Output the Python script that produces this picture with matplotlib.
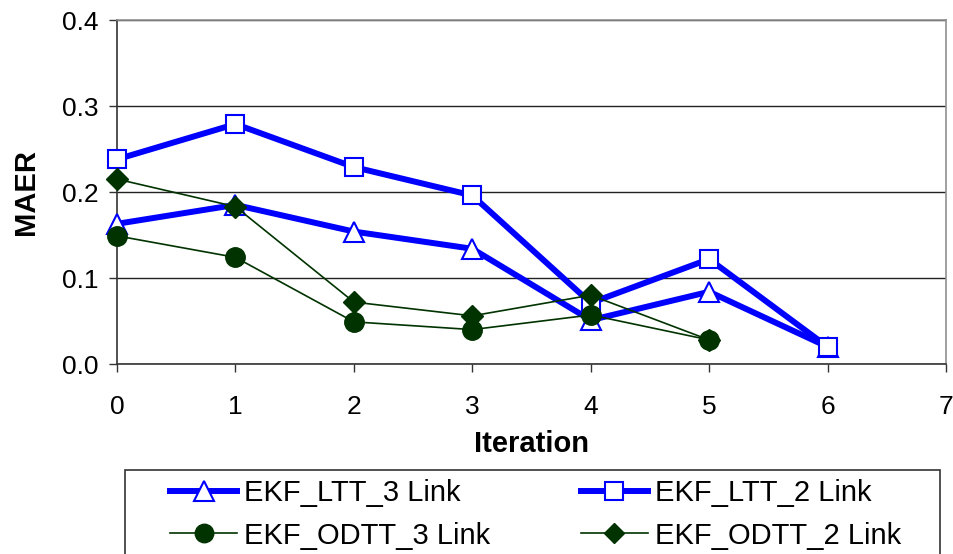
import matplotlib
matplotlib.use("Agg")
import matplotlib.pyplot as plt
from matplotlib.patches import Rectangle

plt.rcParams['font.family'] = ['Liberation Sans', 'DejaVu Sans']

iterations = [0, 1, 2, 3, 4, 5, 6]
ltt_3link = [0.163, 0.185, 0.154, 0.134, 0.051, 0.084, 0.020]
ltt_2link = [0.238, 0.279, 0.229, 0.196, 0.071, 0.122, 0.020]
odtt_3link = [0.149, 0.124, 0.049, 0.040, 0.057, 0.028]
odtt_2link = [0.215, 0.183, 0.072, 0.056, 0.080, 0.028]

W, H = 954, 554
fig = plt.figure(figsize=(W / 100, H / 100), dpi=100)
ax = fig.add_axes([117 / W, 1 - 364 / H, (946 - 117) / W, (364 - 20) / H])

blue = '#0000FF'
green = '#003300'

l1, = ax.plot(iterations, ltt_3link, color=blue, lw=4.3, marker='^', ms=15,
              mfc='white', mec=blue, mew=1.5, label='EKF_LTT_3 Link',
              zorder=3, clip_on=False)
l2, = ax.plot(iterations, ltt_2link, color=blue, lw=4.3, marker='s', ms=13,
              mfc='white', mec=blue, mew=1.5, label='EKF_LTT_2 Link',
              zorder=3, clip_on=False)
l3, = ax.plot(iterations[:6], odtt_3link, color=green, lw=1.2, marker='o', ms=14,
              mfc=green, mec=green, label='EKF_ODTT_3 Link',
              zorder=4, clip_on=False)
l4, = ax.plot(iterations[:6], odtt_2link, color=green, lw=1.2, marker='D', ms=11,
              mfc=green, mec=green, label='EKF_ODTT_2 Link',
              zorder=4, clip_on=False)

ax.set_xlim(0, 7)
ax.set_ylim(0, 0.4)
ax.set_xticks(range(0, 8))
ax.set_yticks([0.0, 0.1, 0.2, 0.3, 0.4])
ax.set_yticklabels(['0.0', '0.1', '0.2', '0.3', '0.4'])
ax.yaxis.grid(True, color='#222222', lw=1)
ax.set_axisbelow(True)
ax.spines['top'].set_color('#909090')
ax.spines['right'].set_color('#909090')
ax.spines['left'].set_color('#333333')
ax.spines['bottom'].set_color('#333333')
for s in ax.spines.values():
    s.set_linewidth(1.2)
ax.tick_params(axis='both', labelsize=19, direction='out', length=6,
               color='#333333', width=1)
ax.tick_params(axis='y', pad=7)
ax.tick_params(axis='x', pad=16)
ax.set_xlabel('Iteration', fontsize=21, fontweight='bold', labelpad=8)
ax.set_ylabel('MAER', fontsize=21, fontweight='bold', labelpad=16)

# legend entries laid out row by row, frame drawn separately
leg = fig.legend(handles=[l1, l3, l2, l4], ncol=2, loc='upper left',
                 bbox_to_anchor=(170 / W, 1 - 479 / H),
                 fontsize=21, frameon=False, handlelength=2.3,
                 handletextpad=0.25, markerscale=0.95, columnspacing=3.1,
                 labelspacing=0.5, borderpad=0, borderaxespad=0)
fig.add_artist(Rectangle((125 / W, -0.05), (940 - 125) / W,
                         (1 - 470 / H) + 0.05, transform=fig.transFigure,
                         fill=False, edgecolor='#333333', lw=1.2))

fig.savefig('out.png', dpi=100)
